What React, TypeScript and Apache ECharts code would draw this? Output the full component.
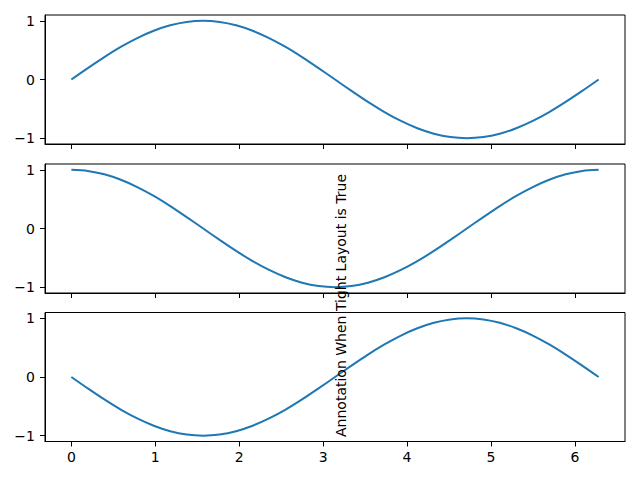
import React, { useEffect, useRef } from "react";
import * as echarts from "echarts";

const xValues = [
  0, 0.196, 0.393, 0.589, 0.785, 0.982, 1.178, 1.374, 1.571, 1.767, 1.963, 2.16,
  2.356, 2.553, 2.749, 2.945, 3.142, 3.338, 3.534, 3.731, 3.927, 4.123, 4.32,
  4.516, 4.712, 4.909, 5.105, 5.301, 5.498, 5.694, 5.89, 6.087, 6.283,
];
const sinValues = [
  0, 0.195, 0.383, 0.556, 0.707, 0.831, 0.924, 0.981, 1, 0.981, 0.924, 0.831,
  0.707, 0.556, 0.383, 0.195, 0, -0.195, -0.383, -0.556, -0.707, -0.831, -0.924,
  -0.981, -1, -0.981, -0.924, -0.831, -0.707, -0.556, -0.383, -0.195, 0,
];
const cosValues = [
  1, 0.981, 0.924, 0.831, 0.707, 0.556, 0.383, 0.195, 0, -0.195, -0.383, -0.556,
  -0.707, -0.831, -0.924, -0.981, -1, -0.981, -0.924, -0.831, -0.707, -0.556,
  -0.383, -0.195, 0, 0.195, 0.383, 0.556, 0.707, 0.831, 0.924, 0.981, 1,
];
const negSinValues = [
  0, -0.195, -0.383, -0.556, -0.707, -0.831, -0.924, -0.981, -1, -0.981, -0.924,
  -0.831, -0.707, -0.556, -0.383, -0.195, 0, 0.195, 0.383, 0.556, 0.707, 0.831,
  0.924, 0.981, 1, 0.981, 0.924, 0.831, 0.707, 0.556, 0.383, 0.195, 0,
];
const xTicks = [0, 1, 2, 3, 4, 5, 6];
const yTicks = [-1, 0, 1];
const annotationText = "Annotation When Tight Layout is True";

const FONT = "DejaVu Sans";
const LINE_COLOR = "#1f77b4";

export default function App() {
  const ref = useRef<HTMLDivElement>(null);
  useEffect(() => {
    document.body.style.margin = "0";
    if (!ref.current) return;
    const chart = echarts.init(ref.current, null, { renderer: "svg" });
    const tops = [15, 164, 312.5];
    const seriesData = [sinValues, cosValues, negSinValues];
    const fmt = (v: number) => (v < 0 ? "\u2212" + Math.abs(v) : String(v));
    const grids = tops.map((t) => ({
      left: 45,
      right: 15,
      top: t,
      height: 129,
      show: true,
      borderColor: "#000",
      borderWidth: 1,
      backgroundColor: "transparent",
    }));
    const xAxes = tops.map((_, i) => ({
      type: "value",
      gridIndex: i,
      position: "bottom",
      min: -0.314,
      max: 6.597,
      axisLine: { show: true, onZero: false, lineStyle: { color: "#000", width: 1 } },
      axisTick: {
        show: true,
        inside: false,
        length: 5,
        lineStyle: { color: "#000", width: 1 },
        customValues: xTicks,
      },
      axisLabel: {
        show: i === 2,
        color: "#000",
        fontFamily: FONT,
        fontSize: 14,
        margin: 8,
        customValues: xTicks,
        formatter: fmt,
      },
      splitLine: { show: false },
    }));
    const yAxes = tops.map((_, i) => ({
      type: "value",
      gridIndex: i,
      position: "left",
      min: -1.1,
      max: 1.1,
      axisLine: { show: true, onZero: false, lineStyle: { color: "#000", width: 1 } },
      axisTick: {
        show: true,
        inside: false,
        length: 5,
        lineStyle: { color: "#000", width: 1 },
        customValues: yTicks,
      },
      axisLabel: {
        show: true,
        color: "#000",
        fontFamily: FONT,
        fontSize: 14,
        margin: 10,
        customValues: yTicks,
        formatter: fmt,
      },
      splitLine: { show: false },
    }));
    const series = seriesData.map((vals, i) => ({
      type: "line",
      xAxisIndex: i,
      yAxisIndex: i,
      data: xValues.map((x, j) => [x, vals[j]]),
      showSymbol: false,
      symbol: "none",
      smooth: 0.3,
      lineStyle: { color: LINE_COLOR, width: 2 },
      silent: true,
    }));
    chart.setOption({
      animation: false,
      backgroundColor: "#fff",
      grid: grids,
      xAxis: xAxes,
      yAxis: yAxes,
      series,
      graphic: [
        {
          type: "text",
          x: 341,
          y: 437,
          rotation: Math.PI / 2,
          z: 100,
          style: {
            text: annotationText,
            fill: "#000",
            fontFamily: FONT,
            fontSize: 14,
            textAlign: "left",
            textVerticalAlign: "middle",
          },
        },
      ],
    });
    return () => chart.dispose();
  }, []);
  return <div ref={ref} style={{ width: 640, height: 480 }} />;
}
